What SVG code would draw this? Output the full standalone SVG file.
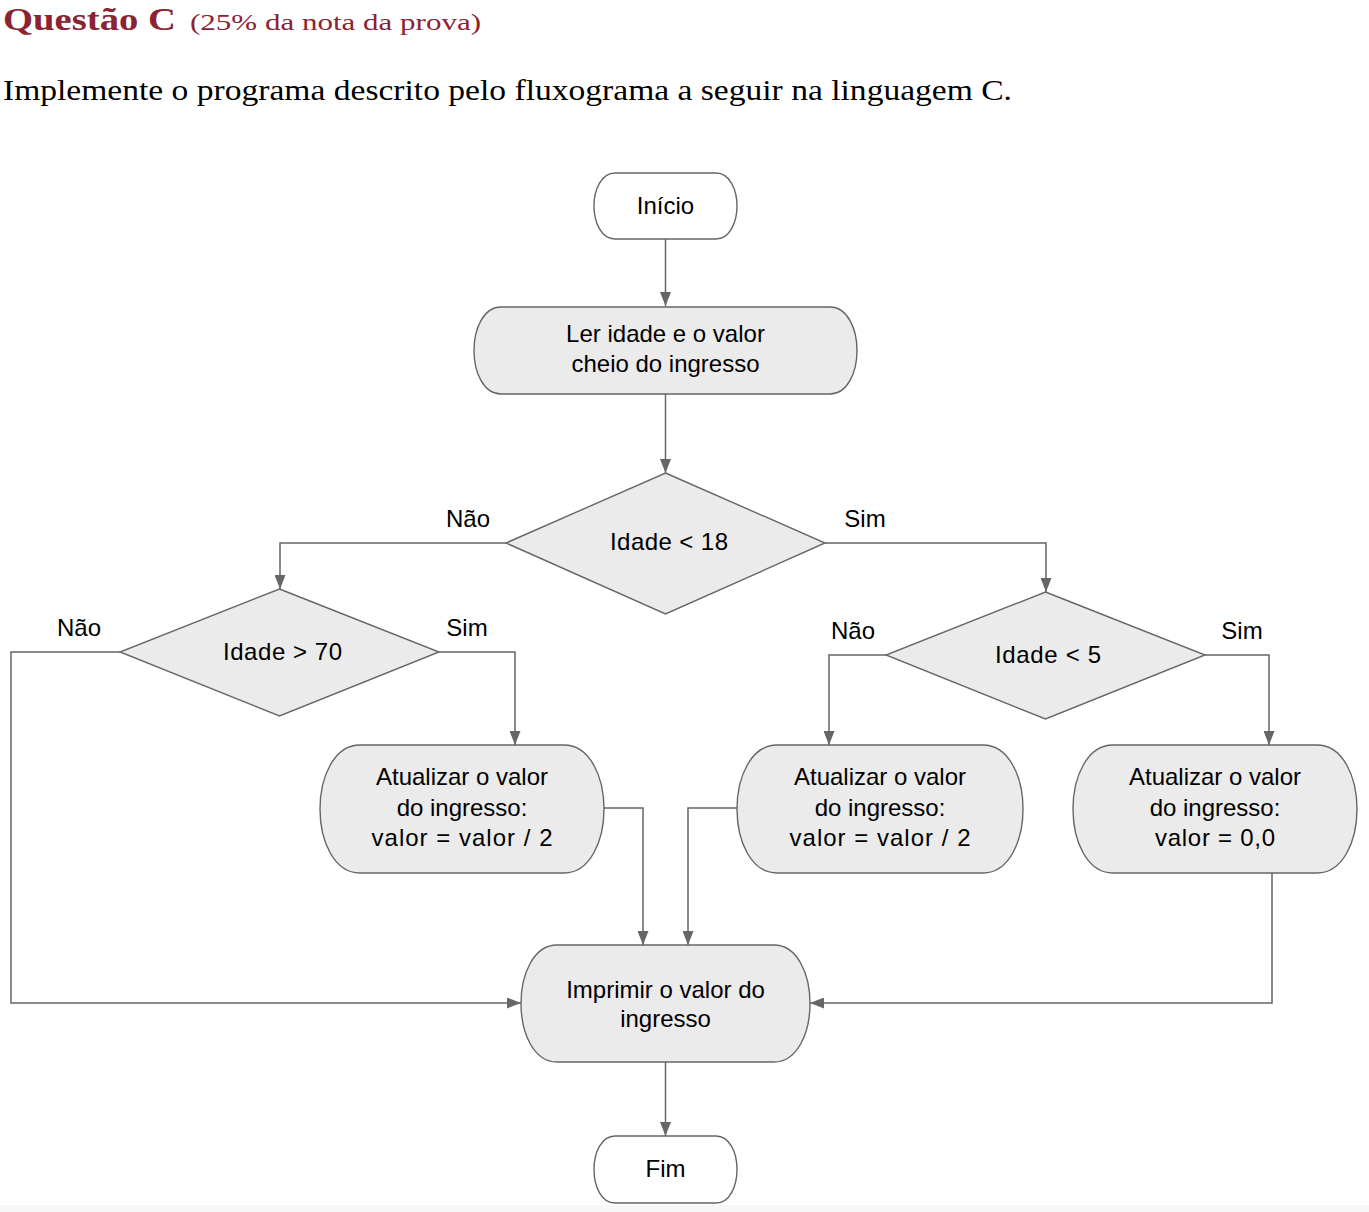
<svg xmlns="http://www.w3.org/2000/svg" width="1369" height="1212" viewBox="0 0 1369 1212">
<defs>
<style>
.hd{font-family:"Liberation Serif","Times New Roman",serif;}
.t{font-family:"Liberation Sans",Arial,sans-serif;font-size:24px;fill:#000;text-anchor:middle;}
.node{stroke:#666;stroke-width:1.4;}
.proc{fill:#ebebeb;}
.term{fill:#fff;}
.edge{fill:none;stroke:#666;stroke-width:1.5;}
</style>
<marker id="arr" viewBox="0 0 14 11" markerWidth="14" markerHeight="11" refX="14" refY="5.5" orient="auto" markerUnits="userSpaceOnUse">
<path d="M0,0 L14,5.5 L0,11 Z" fill="#666"/>
</marker>
</defs>
<rect x="0" y="0" width="1369" height="1212" fill="#fff"/>
<rect x="0" y="1205" width="1369" height="7" fill="#f7f7f7"/>

<g id="header">
<text class="hd" x="3" y="30" font-size="32" font-weight="bold" fill="#8b2332" textLength="173" lengthAdjust="spacingAndGlyphs">Questão C</text>
<text class="hd" x="190" y="30" font-size="24" fill="#8b2332" textLength="291" lengthAdjust="spacingAndGlyphs">(25% da nota da prova)</text>
<text class="hd" x="3" y="100" font-size="29" fill="#000" textLength="1009" lengthAdjust="spacingAndGlyphs">Implemente o programa descrito pelo fluxograma a seguir na linguagem C.</text>
</g>

<g id="connectors">
<path class="edge" marker-end="url(#arr)" d="M665.5,239 V306"/>
<path class="edge" marker-end="url(#arr)" d="M665.5,394 V473"/>
<path class="edge" marker-end="url(#arr)" d="M506,543 H280 V589"/>
<path class="edge" marker-end="url(#arr)" d="M825,543 H1046 V592"/>
<path class="edge" marker-end="url(#arr)" d="M120,652 H11 V1003 H521"/>
<path class="edge" marker-end="url(#arr)" d="M439,652 H515 V745"/>
<path class="edge" marker-end="url(#arr)" d="M886,655 H829 V745"/>
<path class="edge" marker-end="url(#arr)" d="M1205,655 H1269 V745"/>
<path class="edge" marker-end="url(#arr)" d="M604,808 H643 V945"/>
<path class="edge" marker-end="url(#arr)" d="M737,808 H688 V945"/>
<path class="edge" marker-end="url(#arr)" d="M1272,873 V1003 H810"/>
<path class="edge" marker-end="url(#arr)" d="M665.5,1062 V1136"/>
<text class="t" x="468" y="527">Não</text>
<text class="t" x="865" y="527">Sim</text>
<text class="t" x="79" y="636">Não</text>
<text class="t" x="467" y="636">Sim</text>
<text class="t" x="853" y="639">Não</text>
<text class="t" x="1242" y="639">Sim</text>
</g>

<g id="inicio">
<path class="node term" d="M615,173 H716 C729.65,173 737,189.5 737,206 C737,222.5 729.65,239 716,239 H615 C601.35,239 594,222.5 594,206 C594,189.5 601.35,173 615,173 Z"/>
<text class="t" x="665.5" y="214">Início</text>
</g>

<g id="ler">
<path class="node proc" d="M501,307 H830 C847.55,307 857,328.75 857,350.5 C857,372.25 847.55,394 830,394 H501 C483.45,394 474,372.25 474,350.5 C474,328.75 483.45,307 501,307 Z"/>
<text class="t" x="665.5" y="342">Ler idade e o valor</text>
<text class="t" x="665.5" y="372">cheio do ingresso</text>
</g>

<g id="dec18">
<polygon class="node proc" points="665.5,473 825,543 665.5,614 506,543"/>
<text class="t" x="669" y="550" textLength="118" lengthAdjust="spacing">Idade &lt; 18</text>
</g>

<g id="dec70">
<polygon class="node proc" points="279.5,589 439,652 279.5,716 120,652"/>
<text class="t" x="282.5" y="660" textLength="119" lengthAdjust="spacing">Idade &gt; 70</text>
</g>

<g id="dec5">
<polygon class="node proc" points="1045.5,592 1205,655 1045.5,719 886,655"/>
<text class="t" x="1048" y="663" textLength="106" lengthAdjust="spacing">Idade &lt; 5</text>
</g>

<g id="atualizar1">
<path class="node proc" d="M360,745 H564 C590,745 604,777 604,809 C604,841 590,873 564,873 H360 C334,873 320,841 320,809 C320,777 334,745 360,745 Z"/>
<text class="t" x="462" y="785">Atualizar o valor</text>
<text class="t" x="462" y="816">do ingresso:</text>
<text class="t" x="462" y="846" textLength="181" lengthAdjust="spacing">valor = valor / 2</text>
</g>

<g id="atualizar2">
<path class="node proc" d="M777,745 H983 C1009,745 1023,777 1023,809 C1023,841 1009,873 983,873 H777 C751,873 737,841 737,809 C737,777 751,745 777,745 Z"/>
<text class="t" x="880" y="785">Atualizar o valor</text>
<text class="t" x="880" y="816">do ingresso:</text>
<text class="t" x="880" y="846" textLength="181" lengthAdjust="spacing">valor = valor / 2</text>
</g>

<g id="atualizar3">
<path class="node proc" d="M1113,745 H1317 C1343,745 1357,777 1357,809 C1357,841 1343,873 1317,873 H1113 C1087,873 1073,841 1073,809 C1073,777 1087,745 1113,745 Z"/>
<text class="t" x="1215" y="785">Atualizar o valor</text>
<text class="t" x="1215" y="816">do ingresso:</text>
<text class="t" x="1215" y="846" textLength="120" lengthAdjust="spacing">valor = 0,0</text>
</g>

<g id="imprimir">
<path class="node proc" d="M557,945 H774 C797.4,945 810,974.25 810,1003.5 C810,1032.75 797.4,1062 774,1062 H557 C533.6,1062 521,1032.75 521,1003.5 C521,974.25 533.6,945 557,945 Z"/>
<text class="t" x="665.5" y="998">Imprimir o valor do</text>
<text class="t" x="665.5" y="1027">ingresso</text>
</g>

<g id="fim">
<path class="node term" d="M615,1136 H716 C729.65,1136 737,1152.75 737,1169.5 C737,1186.25 729.65,1203 716,1203 H615 C601.35,1203 594,1186.25 594,1169.5 C594,1152.75 601.35,1136 615,1136 Z"/>
<text class="t" x="665.5" y="1177">Fim</text>
</g>
</svg>
